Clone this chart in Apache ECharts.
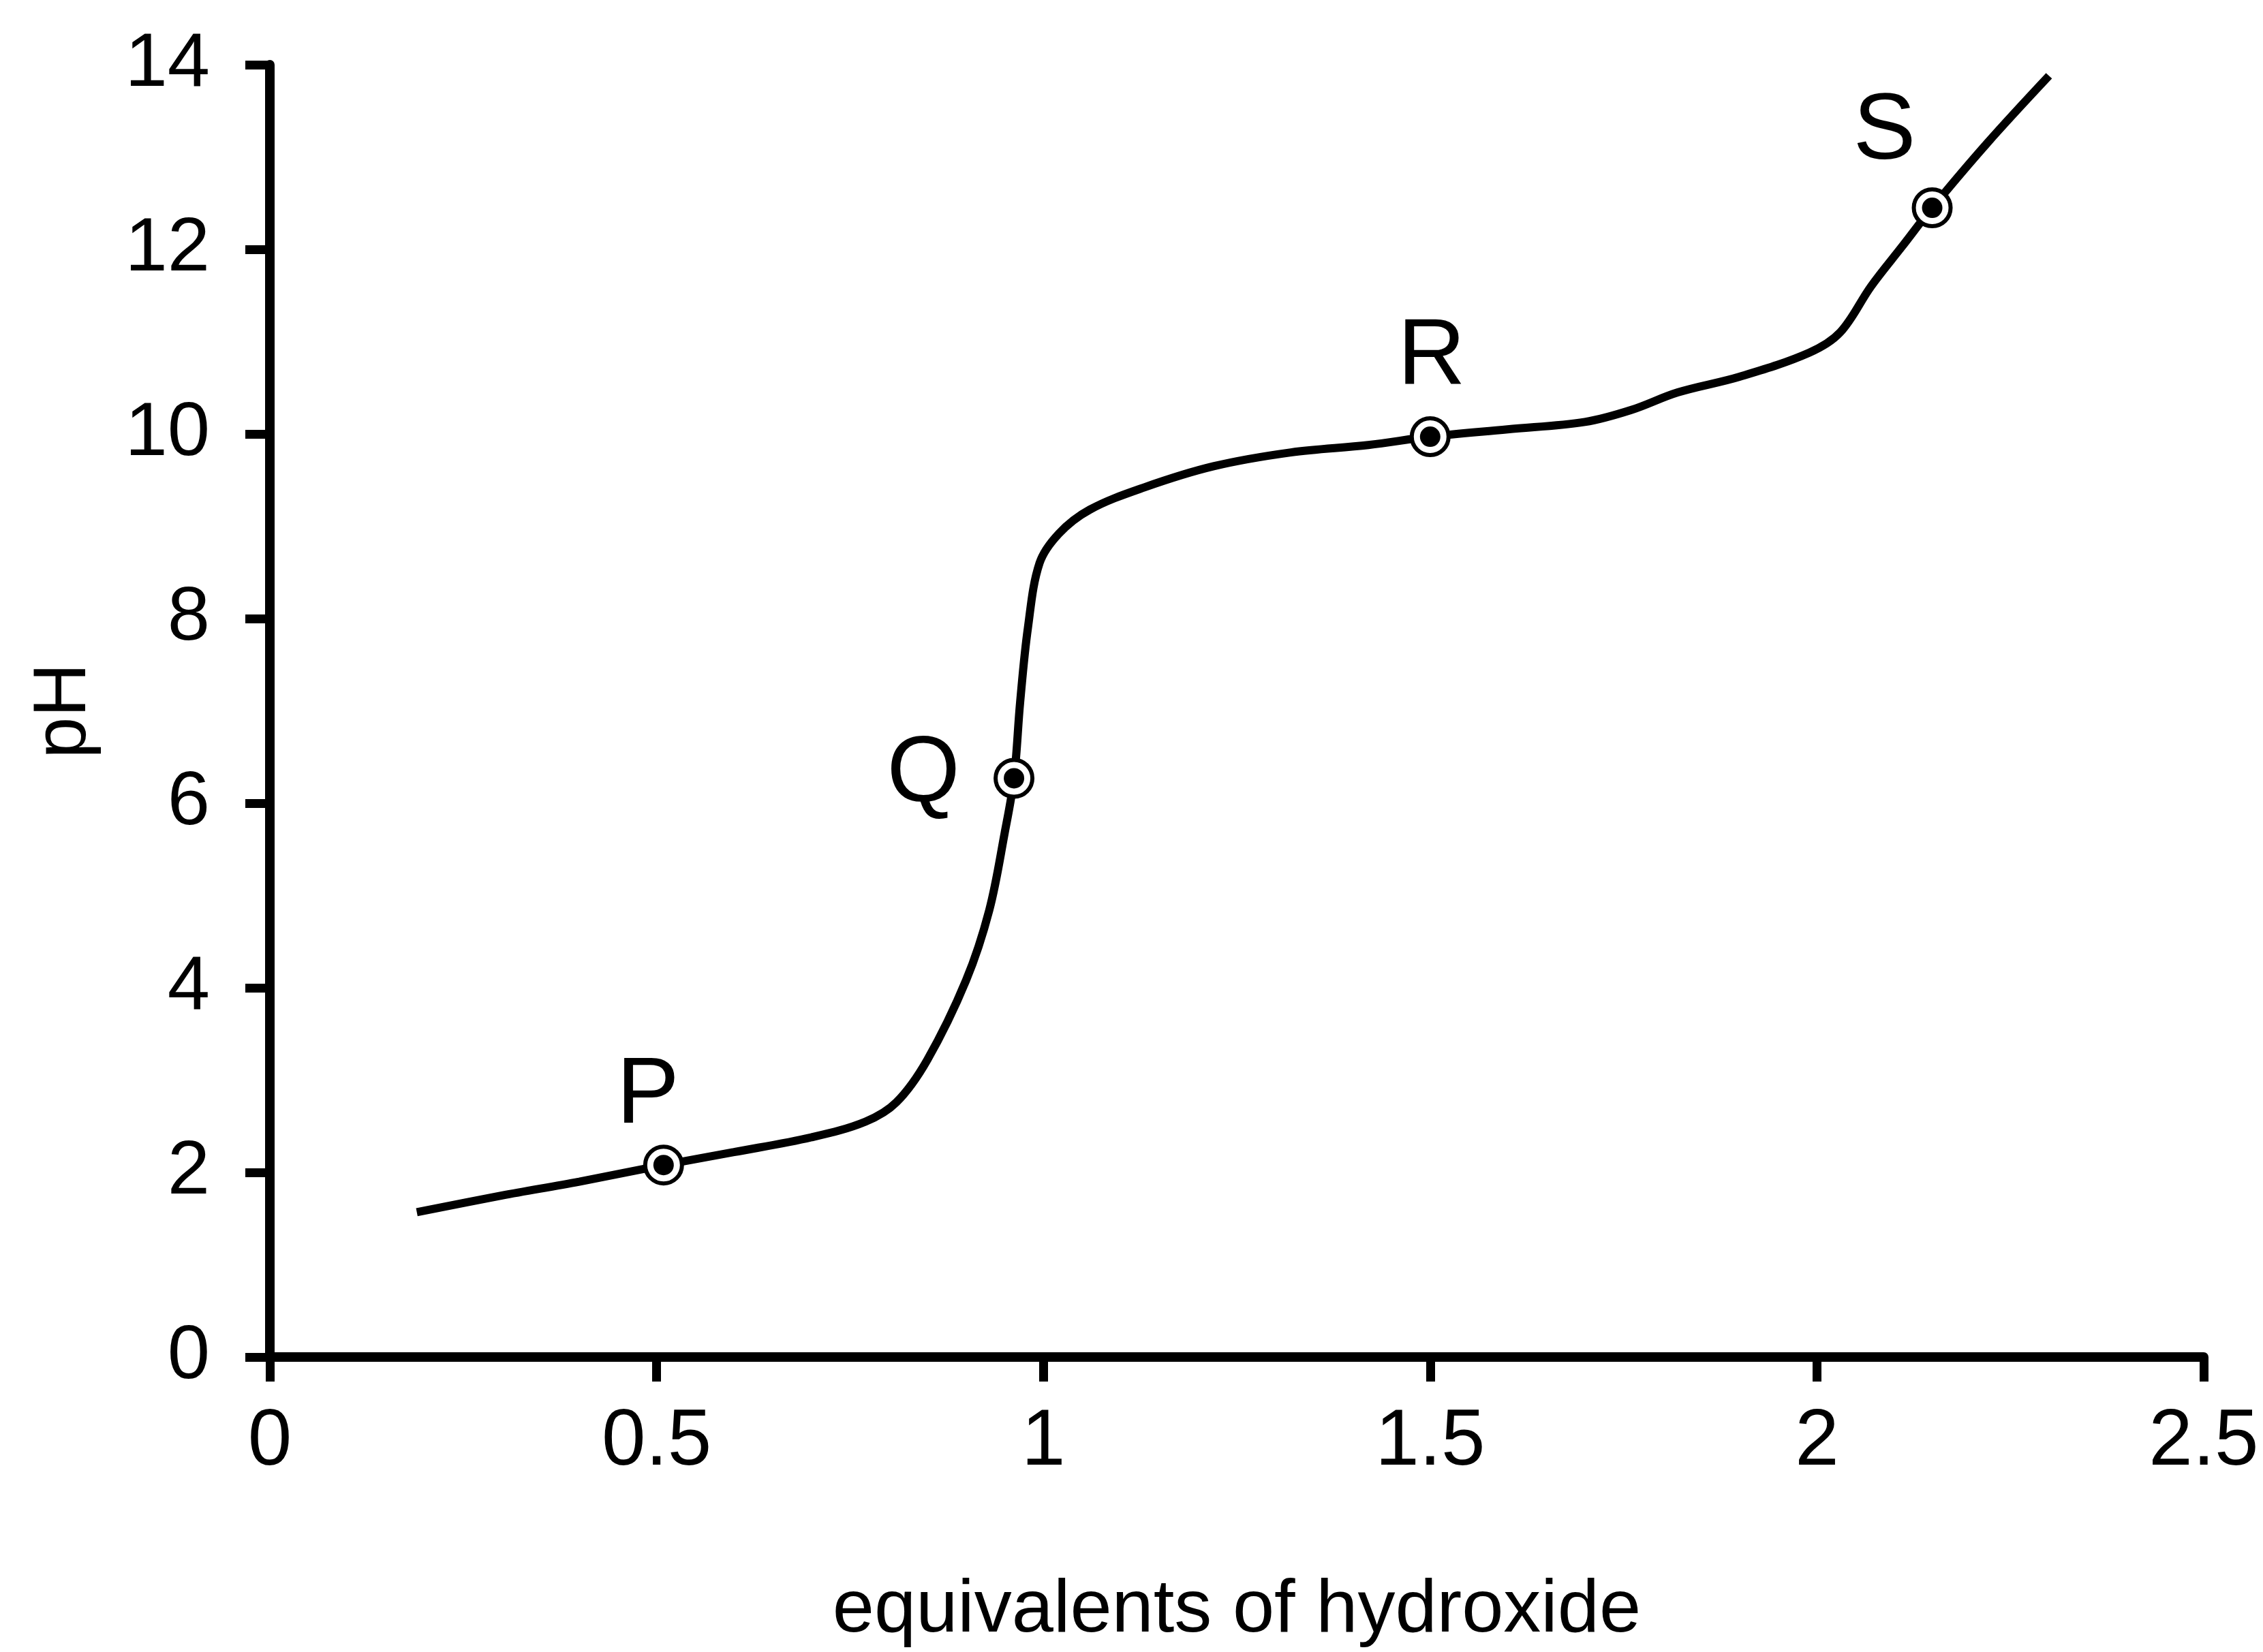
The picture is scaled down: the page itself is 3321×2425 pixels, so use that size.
<!DOCTYPE html>
<html>
<head>
<meta charset="utf-8">
<script src="https://cdn.jsdelivr.net/npm/echarts@6/dist/echarts.min.js"></script>
<style>
html,body{margin:0;padding:0;background:#fff;}
#chart{width:3321px;height:2425px;}
</style>
</head>
<body>
<div id="chart"></div>
<script>
// ---- data ----
const curveX = [0.19, 0.30, 0.40, 0.509, 0.60, 0.70, 0.77, 0.81, 0.85, 0.90, 0.93, 0.95, 0.962, 0.97, 0.98, 0.995, 1.02, 1.06, 1.13, 1.22, 1.32, 1.42, 1.50, 1.60, 1.70, 1.76, 1.82, 1.90, 1.99, 2.03, 2.07, 2.11, 2.149, 2.22, 2.30];
const curveY = [1.57, 1.75, 1.90, 2.08, 2.22, 2.38, 2.55, 2.76, 3.22, 4.08, 4.84, 5.68, 6.27, 7.10, 7.90, 8.60, 8.92, 9.18, 9.42, 9.65, 9.80, 9.88, 9.97, 10.05, 10.13, 10.26, 10.45, 10.62, 10.88, 11.10, 11.60, 12.03, 12.45, 13.15, 13.88];
const pointNames = ['P', 'Q', 'R', 'S'];
const pointX = [0.509, 0.962, 1.50, 2.149];
const pointY = [2.08, 6.27, 9.97, 12.45];
const xTicks = [0, 0.5, 1, 1.5, 2, 2.5];
const yTicks = [0, 2, 4, 6, 8, 10, 12, 14];
const xTitle = 'equivalents of hydroxide';
const yTitle = 'pH';

// label placement (style)
const labelOffsets = [[-23, -100], [-133, -4], [2, -116], [-70, -110]];

const FONT = '"Liberation Sans", Arial, sans-serif';
const chart = echarts.init(document.getElementById('chart'), null, {renderer: 'canvas'});

const curve = curveX.map((x, i) => [x, curveY[i]]);
const pts = pointX.map((x, i) => ({
  name: pointNames[i],
  value: [x, pointY[i]],
  label: {offset: labelOffsets[i]}
}));
const ptsInner = pointX.map((x, i) => [x, pointY[i]]);

const axisCommon = {
  axisLine: {show: true, lineStyle: {color: '#000', width: 14}},
  axisTick: {show: true, inside: false, length: 36, lineStyle: {color: '#000', width: 13}},
  splitLine: {show: false},
  axisLabel: {color: '#000', fontFamily: FONT, fontSize: 112},
  nameTextStyle: {color: '#000', fontFamily: FONT, fontSize: 110}
};

chart.setOption({
  backgroundColor: '#fff',
  animation: false,
  grid: {left: 396, top: 95, right: 87, bottom: 411, containLabel: false},
  xAxis: Object.assign({}, axisCommon, {
    type: 'value', min: xTicks[0], max: xTicks[xTicks.length - 1], interval: 0.5,
    name: xTitle, nameLocation: 'middle', nameGap: 318,
    axisLabel: Object.assign({}, axisCommon.axisLabel, {margin: 68, fontSize: 116})
  }),
  yAxis: Object.assign({}, axisCommon, {
    type: 'value', min: yTicks[0], max: yTicks[yTicks.length - 1], interval: 2,
    name: yTitle, nameLocation: 'middle', nameGap: 246,
    axisLabel: Object.assign({}, axisCommon.axisLabel, {margin: 88})
  }),
  series: [
    {
      type: 'line', data: curve, smooth: 0.35, showSymbol: false,
      lineStyle: {color: '#000', width: 12}, z: 2
    },
    {
      type: 'scatter', data: pts, symbol: 'circle', symbolSize: 54,
      itemStyle: {color: '#fff', borderColor: '#000', borderWidth: 6, opacity: 1},
      label: {show: true, position: 'inside', formatter: '{b}', color: '#000', fontFamily: FONT, fontSize: 138},
      z: 3
    },
    {
      type: 'scatter', data: ptsInner, symbol: 'circle', symbolSize: 30,
      itemStyle: {color: '#000', opacity: 1}, z: 4
    }
  ]
});
</script>
</body>
</html>
